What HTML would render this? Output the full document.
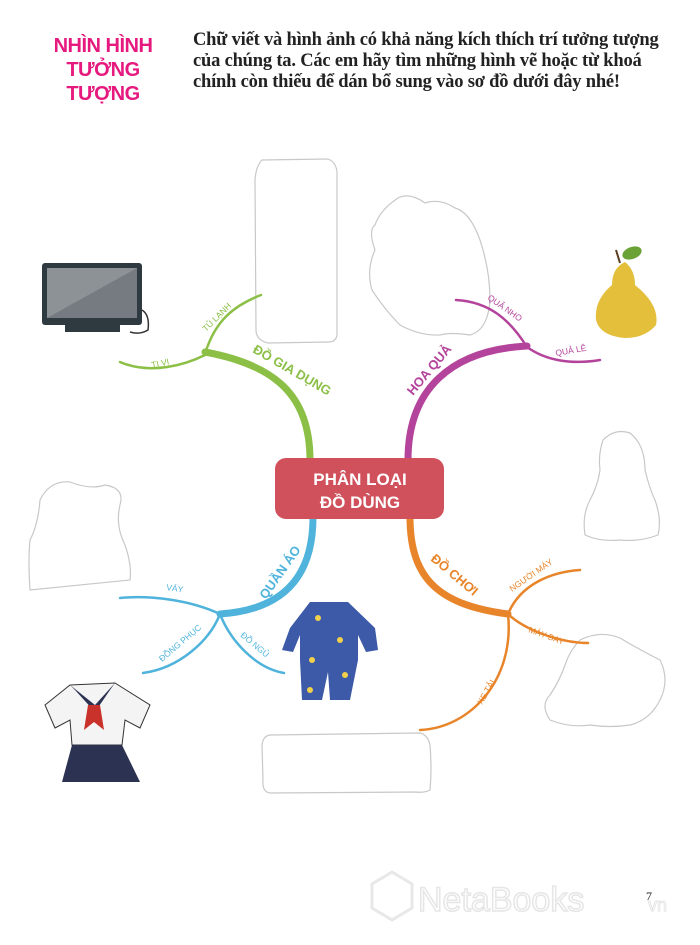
<!DOCTYPE html>
<html><head><meta charset="utf-8"><style>
html,body{margin:0;padding:0;background:#fff}
.wrap{position:relative;width:700px;height:945px;overflow:hidden;font-family:"Liberation Sans","DejaVu Sans",sans-serif}
.title{position:absolute;left:38px;top:34px;width:130px;text-align:center;color:#e6197f;font-weight:bold;font-size:20px;line-height:24px;letter-spacing:-0.5px}
.intro{position:absolute;left:193px;top:30px;width:492px;font-family:"Liberation Serif",serif;font-weight:bold;font-size:18.5px;line-height:21px;color:#222;letter-spacing:-0.2px}
</style></head><body><div class="wrap">
<div class="title">NHÌN HÌNH<br>TƯỞNG<br>TƯỢNG</div>
<div class="intro">Chữ viết và hình ảnh có khả năng kích thích trí tưởng tượng<br>của chúng ta. Các em hãy tìm những hình vẽ hoặc từ khoá<br>chính còn thiếu để dán bổ sung vào sơ đồ dưới đây nhé!</div>
<svg width="700" height="945" style="position:absolute;left:0;top:0" font-family="Liberation Sans, DejaVu Sans, sans-serif" font-weight="bold">
<g fill="none" stroke="#c8c8c8" stroke-width="1.2">
<path d="M262,160 L328,159 Q336,162 337,172 L337,335 Q336,342 328,342 L268,343 Q256,340 256,330 L255,180 Q256,166 262,160 Z"/>
<path d="M398,198 Q410,192 425,203 Q440,198 455,208 Q470,212 480,240 Q490,270 490,300 Q488,330 470,335 Q450,332 440,335 Q420,336 400,325 Q385,310 372,290 Q366,270 375,250 Q368,230 375,225 Q380,210 398,198 Z"/>
<path d="M40,500 Q50,480 70,482 Q90,490 105,485 Q125,488 120,505 Q115,525 125,545 Q132,565 130,580 L30,590 Q28,560 30,540 Q38,525 40,500 Z"/>
<path d="M603,440 Q615,428 630,433 Q645,445 645,470 Q650,490 655,500 Q662,520 658,535 Q640,542 620,540 Q600,542 585,535 Q582,515 590,500 Q598,485 600,470 Q598,455 603,440 Z"/>
<path d="M580,640 Q600,630 620,638 Q640,650 660,660 Q670,680 660,700 Q650,720 630,725 Q610,728 590,725 Q570,728 550,720 Q540,705 550,695 Q560,680 565,665 Q570,650 580,640 Z"/>
<path d="M270,735 L420,733 Q428,735 430,745 Q432,770 430,790 Q425,793 415,792 L270,793 Q262,792 263,780 L262,745 Q263,736 270,735 Z"/>
</g>
<g fill="none" stroke-linecap="round">
<path d="M310,460 C310,395 275,365 205,352" stroke="#8bbf45" stroke-width="7"/>
<path d="M205,355 C185,365 150,375 120,362" stroke="#8bbf45" stroke-width="2.5"/>
<path d="M205,354 C215,320 235,305 261,295" stroke="#8bbf45" stroke-width="2.5"/>
<path d="M408,460 C408,390 450,350 527,346" stroke="#b4449b" stroke-width="7"/>
<path d="M527,347 C510,320 490,302 456,300" stroke="#b4449b" stroke-width="2.5"/>
<path d="M527,347 C545,360 570,365 600,360" stroke="#b4449b" stroke-width="2.5"/>
<path d="M313,517 C313,580 280,610 220,614" stroke="#4fb3dc" stroke-width="7"/>
<path d="M220,614 C190,600 150,595 120,598" stroke="#4fb3dc" stroke-width="2.5"/>
<path d="M220,614 C210,640 180,668 143,673" stroke="#4fb3dc" stroke-width="2.5"/>
<path d="M220,614 C230,640 255,668 284,673" stroke="#4fb3dc" stroke-width="2.5"/>
<path d="M410,517 C410,580 440,605 508,614" stroke="#e8852a" stroke-width="7"/>
<path d="M508,614 C520,585 550,572 580,570" stroke="#e8852a" stroke-width="2.5"/>
<path d="M508,614 C525,630 560,643 588,643" stroke="#e8852a" stroke-width="2.5"/>
<path d="M508,614 C515,680 470,728 420,730" stroke="#e8852a" stroke-width="2.5"/>
</g>
<rect x="275" y="458" width="169" height="61" rx="11" fill="#d0515c"/>
<text x="360" y="485" text-anchor="middle" fill="#fff" font-size="17">PHÂN LOẠI</text>
<text x="360" y="508" text-anchor="middle" fill="#fff" font-size="17">ĐỒ DÙNG</text>
<g font-size="13">
<text fill="#8bbf45" transform="translate(252,352) rotate(30)">ĐỒ GIA DỤNG</text>
<text fill="#b4449b" transform="translate(413,396) rotate(-50)">HOA QUẢ</text>
<text fill="#4fb3dc" transform="translate(266,600) rotate(-55)">QUẦN ÁO</text>
<text fill="#e8852a" transform="translate(430,560) rotate(40)">ĐỒ CHƠI</text>
</g>
<g font-size="8.5" font-weight="normal">
<text fill="#8bbf45" transform="translate(152,368) rotate(-12)">TI VI</text>
<text fill="#8bbf45" transform="translate(206,332) rotate(-45)">TỦ LẠNH</text>
<text fill="#b4449b" transform="translate(487,299) rotate(35)">QUẢ NHO</text>
<text fill="#b4449b" transform="translate(556,356) rotate(-10)">QUẢ LÊ</text>
<text fill="#4fb3dc" transform="translate(166,590) rotate(8)">VÁY</text>
<text fill="#4fb3dc" transform="translate(162,662) rotate(-40)">ĐỒNG PHỤC</text>
<text fill="#4fb3dc" transform="translate(240,636) rotate(40)">ĐỒ NGỦ</text>
<text fill="#e8852a" transform="translate(512,592) rotate(-35)">NGƯỜI MÁY</text>
<text fill="#e8852a" transform="translate(528,632) rotate(20)">MÁY BAY</text>
<text fill="#e8852a" transform="translate(482,705) rotate(-60)">XE TẢI</text>
</g>
<rect x="42" y="263" width="100" height="62" rx="3" fill="#2e3a40"/>
<rect x="47" y="268" width="90" height="50" fill="#8c9296"/>
<polygon points="47,318 137,268 137,318" fill="#757b80"/>
<rect x="65" y="325" width="55" height="7" fill="#2e3a40"/>
<path d="M142,310 Q150,315 148,330 Q140,335 130,332" fill="none" stroke="#333" stroke-width="1.5"/>
<path d="M625,262 Q635,270 635,285 Q660,305 656,325 Q645,338 625,338 Q600,336 596,320 Q594,300 612,285 Q612,268 625,262 Z" fill="#e3bf3c"/>
<line x1="620" y1="263" x2="616" y2="250" stroke="#5a3d22" stroke-width="2"/>
<ellipse cx="632" cy="253" rx="10" ry="6" fill="#6aa236" transform="rotate(-20 632 253)"/>
<path d="M310,602 L348,602 L375,628 L378,650 L366,652 L358,635 L358,660 L350,700 L330,700 L328,672 L322,700 L302,700 L300,660 L300,635 L293,652 L282,650 L290,628 Z" fill="#3d5aa8"/>
<g fill="#f2d04b"><circle cx="318" cy="618" r="3"/><circle cx="340" cy="640" r="3"/><circle cx="312" cy="660" r="3"/><circle cx="345" cy="675" r="3"/><circle cx="310" cy="690" r="3"/></g>
<path d="M70,685 L115,683 L150,705 L140,728 L125,720 L122,745 L72,745 L70,720 L55,728 L45,705 Z" fill="#f4f4f4" stroke="#333" stroke-width="1"/>
<path d="M70,685 L95,705 L115,683 L110,690 L95,712 L75,690 Z" fill="#2c3252"/>
<path d="M88,705 L100,705 L104,730 L94,722 L84,730 Z" fill="#c8322a"/>
<path d="M72,745 L122,745 L140,782 L62,782 Z" fill="#2c3252"/>
<g fill="none" stroke="#e8e8e8" stroke-width="3">
<polygon points="392,872 412,884 412,908 392,920 372,908 372,884"/>
</g>
<text x="418" y="911" font-size="34" font-weight="normal" fill="none" stroke="#e6e6e6" stroke-width="1.5">NetaBooks</text>
<text x="648" y="911" font-size="18" font-weight="normal" fill="none" stroke="#e6e6e6" stroke-width="1">vn</text>
<text x="646" y="900" font-size="12" font-weight="normal" fill="#222" font-family="Liberation Serif, serif">7</text>
</svg>
</div></body></html>
